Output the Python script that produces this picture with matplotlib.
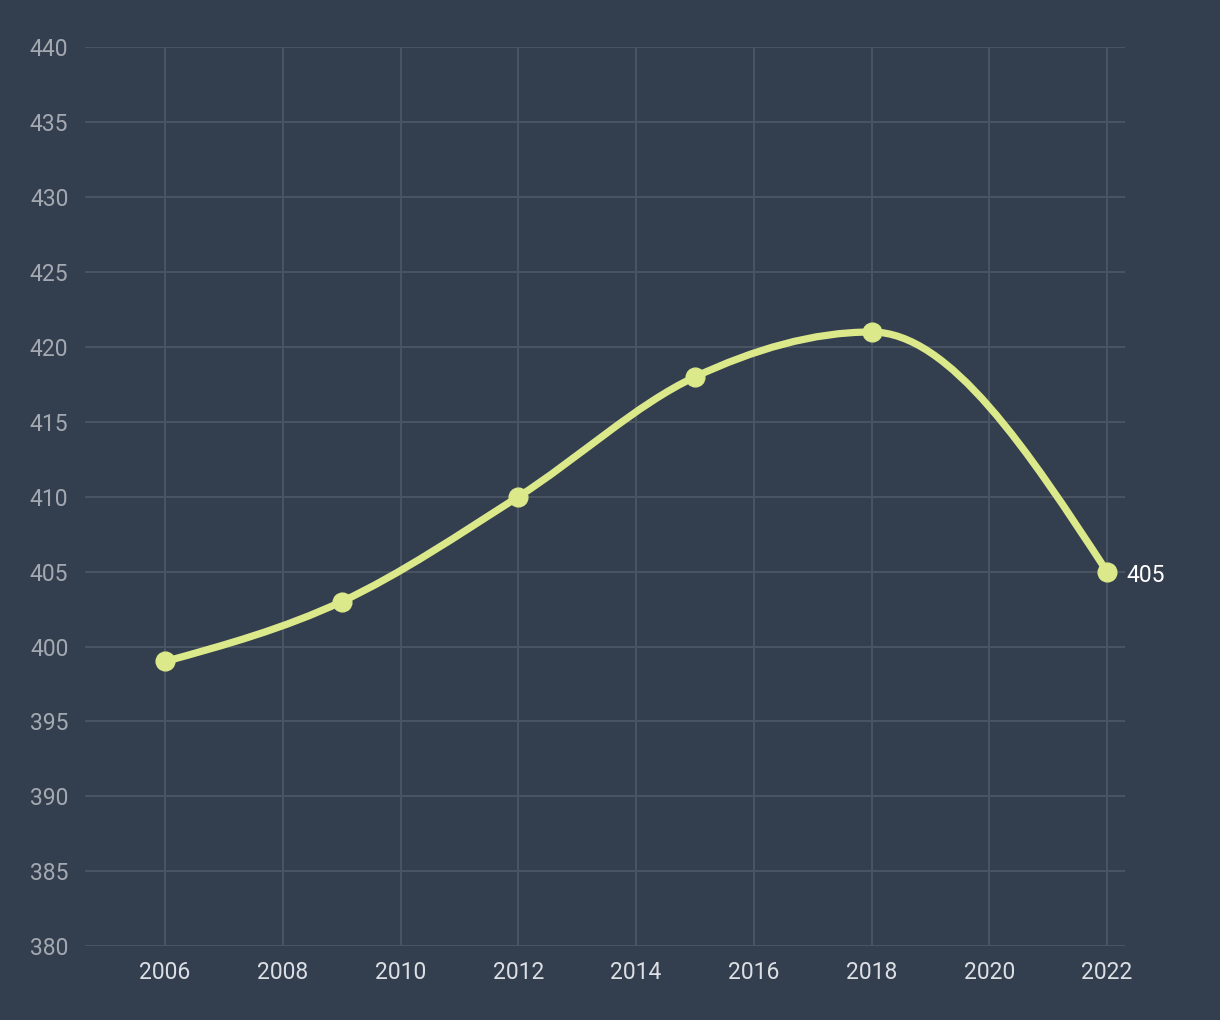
import numpy as np
import matplotlib
matplotlib.use("Agg")
from matplotlib import pyplot as plt
from matplotlib.path import Path
from matplotlib.patches import PathPatch

plt.rcParams['font.family'] = ['Roboto', 'DejaVu Sans']

years = [2006, 2009, 2012, 2015, 2018, 2022]
values = [399, 403, 410, 418, 421, 405]
x_ticks = list(range(2006, 2023, 2))
y_ticks = list(range(380, 441, 5))

bg = "#333e4f"
grid_c = "#4a5362"
line_c = "#dbe98a"


def monotone_slopes(x, y):
    # d3 curveMonotoneX tangents
    n = len(x)
    t = np.zeros(n)
    for i in range(1, n - 1):
        h0 = x[i] - x[i - 1]
        h1 = x[i + 1] - x[i]
        s0 = (y[i] - y[i - 1]) / h0
        s1 = (y[i + 1] - y[i]) / h1
        p = (s0 * h1 + s1 * h0) / (h0 + h1)
        t[i] = (np.sign(s0) + np.sign(s1)) * min(abs(s0), abs(s1), 0.5 * abs(p))
    t[0] = (3 * (y[1] - y[0]) / (x[1] - x[0]) - t[1]) / 2
    t[-1] = (3 * (y[-1] - y[-2]) / (x[-1] - x[-2]) - t[-2]) / 2
    return t


xs = np.array(years, dtype=float)
ys = np.array(values, dtype=float)
tg = monotone_slopes(xs, ys)

verts = [(xs[0], ys[0])]
codes = [Path.MOVETO]
for i in range(len(xs) - 1):
    dx = (xs[i + 1] - xs[i]) / 3
    verts += [(xs[i] + dx, ys[i] + dx * tg[i]),
              (xs[i + 1] - dx, ys[i + 1] - dx * tg[i + 1]),
              (xs[i + 1], ys[i + 1])]
    codes += [Path.CURVE4] * 3

fig = plt.figure(figsize=(12.2, 10.2001), dpi=100, facecolor=bg)
ax = fig.add_axes([0.0697, 0.0725, 0.8525, 0.8810])
ax.set_facecolor(bg)

ax.add_patch(PathPatch(Path(verts, codes), facecolor="none", edgecolor=line_c,
                       lw=5.2, capstyle="round", joinstyle="round", zorder=3))
ax.plot(years, values, "o", color=line_c, markersize=13.5, zorder=4)
ax.text(years[-1] + 0.33, values[-1] - 0.25, str(values[-1]), color="white",
        fontsize=16.5, va="center", ha="left", zorder=5)

ax.set_xlim(2004.64, 2022.306)
ax.set_ylim(380, 440)
ax.set_xticks(x_ticks)
ax.set_yticks(y_ticks)
ax.grid(True, color=grid_c, lw=1.5)
ax.set_axisbelow(True)
for s in ax.spines.values():
    s.set_visible(False)
ax.tick_params(axis="both", length=0)
ax.tick_params(axis="y", colors="#a4a9b1", labelsize=16.5, pad=12)
ax.tick_params(axis="x", colors="#dcdfe4", labelsize=16.5, pad=11)

fig.savefig("out.png", dpi=100, facecolor=bg)
